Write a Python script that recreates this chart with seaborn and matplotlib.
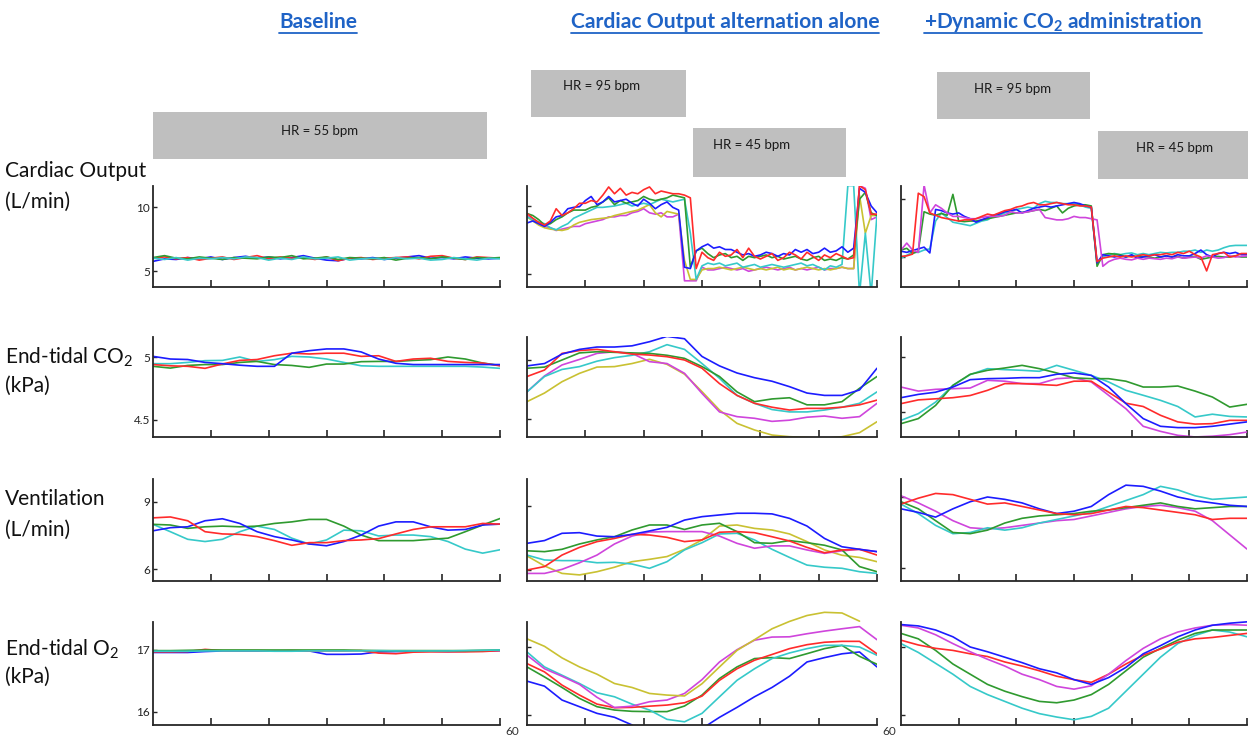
import numpy as np
import matplotlib
matplotlib.use("Agg")
import matplotlib.pyplot as plt
import seaborn as sns
from matplotlib.patches import Rectangle
from matplotlib.lines import Line2D

sns.set_style("white")
plt.rcParams['font.family'] = ['Lato', 'DejaVu Sans']
plt.rcParams['mathtext.fontset'] = 'custom'
plt.rcParams['mathtext.rm'] = 'Lato'
plt.rcParams['mathtext.it'] = 'Lato:italic'
plt.rcParams['mathtext.bf'] = 'Lato:bold'

# ---------------- data ----------------
T1 = list(range(0, 61))        # 1-s samples (cardiac output, interventions)
T2 = list(range(0, 61, 2))     # 2-s samples (baseline cardiac output)
T3 = list(range(0, 61, 3))     # 3-s samples (slow signals)

COL_TITLES = ["Baseline", "Cardiac Output alternation alone", r"+Dynamic CO$_\mathbf{2}$ administration"]
ROW_LABELS = [("Cardiac Output", "(L/min)"), (r"End-tidal CO$_2$", "(kPa)"),
              ("Ventilation", "(L/min)"), (r"End-tidal O$_2$", "(kPa)")]
Y_TICKS = [[10, 5], [5, 4.5], [9, 6], [17, 16]]
Y_TICK_LABELS = [["10", "5"], ["5", "4.5"], ["9", "6"], ["17", "16"]]
X_TICKS = [10, 20, 30, 40, 50, 60]
HR_LABELS = ["HR = 55 bpm", "HR = 95 bpm", "HR = 45 bpm", "HR = 95 bpm", "HR = 45 bpm"]

# Cardiac output (L/min)
CO_BASE = dict(
    blue=[5.75,5.95,5.9,6.05,5.95,6.1,5.9,6.05,6.15,6.0,6.1,5.95,6.05,6.2,6.0,5.85,5.8,6.0,5.95,6.05,5.9,6.0,6.1,6.2,6.0,6.05,5.95,6.1,6.0,5.95,6.0],
    red=[6.0,6.1,5.95,6.05,5.85,6.0,6.1,5.9,6.05,6.2,5.95,6.1,6.0,6.05,5.9,6.1,5.8,6.0,6.05,5.9,6.0,6.05,6.1,5.95,6.15,6.2,6.0,5.9,6.1,6.05,6.0],
    green=[6.05,6.2,6.0,5.95,6.1,6.0,5.9,6.05,6.0,5.95,6.1,6.05,6.2,5.95,6.0,6.1,5.9,6.05,6.0,5.95,6.05,5.85,6.0,6.05,5.95,6.1,6.0,5.9,6.05,6.0,6.05],
    cyan=[6.0,5.9,6.05,5.85,6.0,5.95,6.05,5.95,6.1,6.05,5.85,6.0,5.9,6.1,5.95,6.0,6.1,5.85,5.95,6.0,5.9,6.05,5.95,6.0,5.85,5.9,6.05,5.95,5.85,6.0,5.95],
)
CO_ALT = dict(
    magenta=[9.3,9.0,8.7,8.5,8.4,8.2,8.3,8.4,8.5,8.5, 8.7,8.8,8.9,9.0,9.2,9.2,9.3,9.3,9.5,9.6,
             9.8,9.5,9.4,9.5,9.2,9.2,9.4,4.5,4.5,4.5, 5.5,5.3,5.3,5.4,5.5,5.4,5.3,5.4,5.2,5.3,
             5.4,5.5,5.4,5.3,5.4,5.5,5.3,5.4,5.3,5.4, 5.5,5.3,5.4,5.4,5.5,5.4,5.4,11.5,11.3,9.0, 9.2],
    yellow=[9.2,8.9,8.6,8.4,8.3,8.25,8.2,8.3,8.6,8.8, 8.9,9.0,9.05,9.1,9.15,9.3,9.4,9.5,9.6,9.7,
            9.9,10.1,9.5,9.2,9.6,9.5,9.4,6.0,4.6,4.6, 5.3,5.4,5.4,5.5,5.4,5.3,5.4,5.5,5.4,5.3,
            5.4,5.3,5.4,5.5,5.3,5.4,5.3,5.4,5.5,5.4, 5.3,5.4,5.3,5.4,5.5,5.4,5.4,10.8,8.0,9.3, 9.3],
    cyan=[9.2,9.0,8.8,8.7,8.4,8.25,8.5,8.7,9.1,9.3, 9.5,9.7,9.9,9.9,9.95,10.0,10.1,10.2,10.0,10.1,
          10.2,10.1,10.3,10.5,10.4,10.3,10.4,10.5,8.0,4.6, 5.6,5.8,5.7,5.8,5.6,5.7,5.8,5.5,5.6,5.7,
          5.5,5.6,5.7,5.6,5.5,5.6,5.7,5.8,5.6,5.7, 5.5,5.3,5.6,5.5,5.7,11.5,11.5,3.5,8.0,3.5, 9.4],
    green=[9.45,9.3,9.0,8.6,8.7,9.0,9.2,9.5,9.7,9.7, 9.7,9.9,10.0,10.3,10.6,10.1,10.4,10.2,10.3,10.4,
           10.7,10.5,10.4,10.5,10.6,10.8,10.7,10.6,5.5,6.7, 6.9,6.5,6.2,6.4,6.5,6.2,6.3,6.0,6.3,6.2,
           6.3,6.4,6.2,6.3,6.1,6.2,6.3,6.1,6.0,6.2, 6.3,6.0,6.1,6.0,6.2,6.1,6.4,10.5,11.0,9.5, 9.3],
    blue=[8.75,8.9,8.7,8.5,8.8,9.2,9.3,9.8,9.9,9.95, 10.4,10.7,10.1,10.3,10.7,10.3,10.4,10.5,10.2,10.0,
          10.5,10.2,9.8,10.1,10.3,9.9,9.7,5.5,5.4,6.7, 7.0,7.2,6.9,7.0,6.8,6.8,6.6,6.4,6.5,6.3,
          6.4,6.6,6.5,6.3,6.5,6.4,6.8,6.6,6.8,6.5, 6.6,6.9,6.6,6.7,7.0,6.6,6.9,11.3,11.0,10.0, 9.5],
    red=[9.45,9.1,8.8,8.6,8.9,9.8,9.3,9.5,9.8,10.2, 10.2,10.4,10.3,10.8,11.4,10.9,11.3,10.8,11.0,10.9,
         11.2,11.4,10.9,11.1,11.0,10.9,10.9,10.8,10.6,5.4, 6.6,6.2,6.0,6.6,6.3,6.4,6.8,6.2,6.9,6.3,
         6.1,6.3,6.5,6.0,6.2,6.6,6.4,6.1,6.6,6.3, 6.0,6.4,6.2,6.5,6.3,6.1,6.2,11.5,11.2,9.4, 9.4],
)
CO_DYN = dict(
    cyan=[4.9,5.15,5.4,5.4,5.6,5.7,8.1,8.8,8.4,8.0, 7.9,7.8,7.7,7.9,8.1,8.2,8.5,8.6,8.8,8.9,
          9.1,9.2,9.3,9.2,9.6,9.8,9.7,9.7,9.6,9.6, 9.6,9.5,9.3,9.2,4.4,5.0,5.2,5.3,5.2,5.3,
          5.35,5.2,5.3,5.2,5.3,5.4,5.35,5.4,5.4,5.5, 5.5,5.6,5.4,5.6,5.5,5.6,5.8,5.95,6.0,6.0, 6.0],
    green=[5.6,5.75,5.3,5.5,8.9,8.7,8.6,8.75,8.6,10.4, 8.1,8.05,8.1,8.1,8.2,8.3,8.4,8.5,8.6,8.7,
           8.8,8.85,8.9,9.0,9.1,9.0,9.2,9.4,8.8,9.2, 9.4,9.5,9.5,9.4,4.2,5.2,5.3,5.25,5.2,5.0,
           5.1,5.0,5.05,5.0,4.9,5.0,5.1,5.0,5.05,4.9, 5.0,5.05,4.8,4.9,5.0,5.05,5.0,5.0,5.1,5.0, 5.0],
    blue=[5.5,5.4,5.55,5.7,5.85,5.35,9.1,9.0,8.8,8.7, 8.8,8.5,8.3,8.0,8.2,8.4,8.6,8.7,8.9,9.0,
          9.1,8.8,9.0,9.2,9.3,9.4,9.3,9.4,9.5,9.6, 9.7,9.6,9.4,9.3,4.5,5.2,5.1,5.0,5.1,5.0,
          5.2,4.9,5.0,5.1,5.2,5.0,5.1,5.0,5.2,5.1, 5.1,5.3,5.6,5.2,5.0,5.3,5.4,5.3,5.4,5.2, 5.2],
    magenta=[5.6,6.2,5.6,5.4,11.2,8.8,9.5,9.2,8.8,8.5, 8.5,8.4,8.3,8.3,8.4,8.5,8.5,8.5,8.6,8.9,
             8.8,8.8,8.9,9.0,9.1,8.4,8.3,8.2,8.2,8.3, 8.5,8.4,8.4,8.3,8.2,4.2,4.6,4.8,4.9,4.8,
             4.75,4.9,4.8,4.9,4.85,4.8,4.9,4.85,5.0,4.9, 4.95,5.0,4.9,5.1,5.0,4.9,4.95,5.1,5.0,5.05, 5.1],
    red=[5.05,5.1,5.25,10.5,10.2,8.8,8.6,8.4,8.3,8.2, 8.1,8.2,8.2,8.3,8.5,8.7,8.6,8.8,9.0,9.1,
         9.3,9.4,9.6,9.7,9.5,9.5,9.6,9.7,9.6,9.5, 9.5,9.4,9.4,9.3,4.6,4.9,5.0,5.1,5.0,5.1,
         5.0,5.1,5.2,5.1,5.2,5.2,5.3,5.2,5.4,5.3, 5.5,5.2,5.0,3.8,5.2,5.3,5.4,5.0,5.1,5.3, 5.3],
)

# End-tidal CO2 (kPa)
CO2_BASE = dict(
    cyan=[4.947,4.947,4.957,4.971,4.973,5.0,4.965,4.979,5.005,5.0,4.984,4.957,4.93,4.926,4.926,4.926,4.926,4.926,4.926,4.92,4.91],
    green=[4.926,4.912,4.933,4.94,4.94,4.957,4.965,4.94,4.933,4.918,4.944,4.944,4.963,4.965,4.965,4.973,4.979,5.0,4.984,4.952,4.933],
    red=[4.94,4.93,4.926,4.91,4.945,4.973,4.98,5.01,5.03,5.024,5.03,5.03,5.005,5.01,4.965,4.984,4.99,4.965,4.957,4.952,4.93],
    blue=[5.005,4.984,4.98,4.957,4.947,4.935,4.926,4.926,5.03,5.05,5.064,5.064,5.04,4.984,4.95,4.94,4.94,4.94,4.94,4.94,4.94],
)
CO2_ALT = dict(
    yellow=[4.647,4.72,4.816,4.887,4.94,4.944,4.97,5.006,4.963,4.88,4.732,4.576,4.463,4.407,4.364,4.35,4.344,4.336,4.35,4.384,4.477],
    magenta=[4.73,4.865,4.958,5.005,5.056,5.07,5.056,4.986,4.97,4.887,4.717,4.56,4.52,4.506,4.48,4.49,4.515,4.525,4.506,4.52,4.633],
    cyan=[4.73,4.86,4.92,4.944,4.99,5.02,5.04,5.07,5.13,5.09,4.97,4.845,4.70,4.633,4.58,4.56,4.56,4.576,4.60,4.633,4.73],
    green=[4.93,4.94,5.0,5.06,5.07,5.065,5.06,5.056,5.04,5.014,4.944,4.86,4.73,4.647,4.67,4.68,4.62,4.62,4.647,4.76,4.86],
    red=[4.86,4.915,5.056,5.08,5.09,5.07,5.05,5.042,5.028,5.0,4.93,4.80,4.70,4.633,4.60,4.576,4.59,4.59,4.60,4.62,4.66],
    blue=[4.95,4.97,5.05,5.09,5.11,5.11,5.12,5.155,5.2,5.18,5.03,4.95,4.89,4.85,4.82,4.774,4.72,4.70,4.70,4.746,4.93],
)
CO2_DYN = dict(
    magenta=[4.727,4.69,4.706,4.712,4.718,4.788,4.78,4.758,4.758,4.803,4.812,4.773,4.652,4.53,4.37,4.324,4.288,4.273,4.28,4.294,4.318],
    cyan=[4.424,4.485,4.59,4.742,4.84,4.894,4.885,4.879,4.87,4.924,4.879,4.833,4.773,4.697,4.652,4.606,4.55,4.455,4.48,4.46,4.455],
    green=[4.394,4.44,4.56,4.742,4.843,4.879,4.90,4.924,4.894,4.855,4.81,4.803,4.803,4.78,4.727,4.727,4.736,4.69,4.636,4.545,4.57],
    red=[4.576,4.61,4.62,4.63,4.65,4.697,4.758,4.758,4.75,4.742,4.78,4.78,4.68,4.58,4.55,4.47,4.41,4.39,4.394,4.424,4.424],
    blue=[4.63,4.66,4.68,4.727,4.794,4.803,4.806,4.812,4.812,4.843,4.855,4.833,4.727,4.576,4.44,4.37,4.358,4.358,4.37,4.39,4.41],
)

# Ventilation (L/min)
VE_BASE = dict(
    cyan=[8.0,7.67,7.33,7.23,7.33,7.67,7.92,7.77,7.38,7.12,7.30,7.74,7.71,7.48,7.52,7.52,7.45,7.23,6.89,6.71,6.86],
    green=[8.0,7.97,7.82,7.89,7.92,7.89,7.92,8.04,8.11,8.22,8.22,7.92,7.52,7.27,7.27,7.27,7.33,7.38,7.67,7.97,8.26],
    blue=[7.71,7.85,7.89,8.16,8.25,8.04,7.67,7.45,7.30,7.12,7.04,7.23,7.52,7.92,8.11,8.11,7.89,7.74,7.77,7.97,8.01],
    red=[8.29,8.33,8.16,7.67,7.57,7.55,7.45,7.27,7.06,7.18,7.18,7.27,7.30,7.36,7.57,7.77,7.89,7.89,7.89,8.04,8.01],
)
VE_ALT = dict(
    yellow=[6.66,6.19,5.84,5.77,5.92,6.13,6.39,6.5,6.63,6.97,7.41,8.06,8.11,7.95,7.875,7.69,7.33,6.94,6.69,6.59,6.39],
    cyan=[6.70,6.47,6.44,6.44,6.34,6.36,6.28,6.08,6.39,6.94,7.28,7.69,7.72,7.41,6.97,6.59,6.23,6.13,6.08,5.92,5.84],
    magenta=[5.84,5.84,6.03,6.34,6.70,7.22,7.59,7.78,7.8,7.8,7.8,7.59,7.25,7.02,7.13,7.13,6.94,6.78,6.9,6.97,6.86],
    green=[6.9,6.86,6.97,7.22,7.41,7.56,7.875,8.11,8.11,7.9,8.11,8.19,7.8,7.28,7.25,7.38,7.28,7.16,6.94,6.16,5.92],
    red=[6.0,6.16,6.7,7.06,7.33,7.48,7.67,7.64,7.53,7.33,7.41,7.77,7.8,7.75,7.56,7.36,7.06,6.81,6.94,6.97,6.70],
    blue=[7.25,7.38,7.72,7.75,7.59,7.56,7.67,7.83,8.0,8.34,8.5,8.58,8.66,8.66,8.63,8.42,8.06,7.48,7.09,6.97,6.86],
)
VE_DYN = dict(
    magenta=[9.05,8.75,8.4,8.0,7.7,7.65,7.7,7.8,7.9,8.0,8.05,8.2,8.35,8.5,8.6,8.65,8.55,8.4,8.0,7.4,6.8],
    cyan=[8.7,8.3,7.8,7.45,7.5,7.7,7.6,7.7,7.9,8.05,8.2,8.35,8.6,8.85,9.1,9.45,9.3,9.05,8.9,8.95,9.0],
    green=[8.8,8.5,8.0,7.5,7.45,7.6,7.9,8.1,8.2,8.25,8.3,8.4,8.45,8.55,8.65,8.75,8.6,8.5,8.55,8.6,8.6],
    blue=[8.5,8.35,8.15,8.5,8.8,9.0,8.9,8.75,8.5,8.3,8.4,8.6,9.1,9.5,9.45,9.25,9.0,8.85,8.75,8.65,8.6],
    red=[8.7,8.95,9.15,9.1,8.9,8.7,8.75,8.6,8.45,8.3,8.25,8.3,8.45,8.6,8.55,8.45,8.35,8.25,8.05,8.1,8.1],
)

# End-tidal O2 (kPa)
O2_BASE = dict(
    blue=[16.96,16.96,16.96,16.975,16.985,16.985,16.985,16.985,16.985,16.985,16.93,16.93,16.935,16.97,16.975,16.98,16.98,16.975,16.98,16.985,16.99],
    red=[16.97,16.97,16.975,17.01,16.99,16.99,16.99,16.985,16.99,16.985,16.985,16.985,16.99,16.95,16.94,16.965,16.97,16.97,16.97,16.975,16.99],
    green=[16.99,16.99,16.995,17.0,17.0,17.0,17.0,17.0,17.0,17.0,17.0,17.0,16.995,16.99,16.99,16.99,16.99,16.99,16.99,16.995,17.0],
    cyan=[16.98,16.98,16.98,16.985,16.985,16.985,16.985,16.98,16.98,16.985,16.985,16.985,16.985,16.99,16.985,16.985,16.985,16.985,16.99,16.995,17.0],
)
O2_ALT = dict(
    blue=[16.498,16.424,16.22,16.122,16.024,15.966,15.854,15.6,15.6,15.6,15.8,15.966,16.112,16.268,16.405,16.57,16.78,16.844,16.9,16.927,16.707],
    green=[16.707,16.56,16.405,16.244,16.122,16.073,16.054,16.05,16.05,16.132,16.293,16.537,16.707,16.83,16.844,16.83,16.902,16.976,17.024,16.863,16.746],
    cyan=[16.927,16.707,16.585,16.463,16.327,16.268,16.16,16.073,15.936,15.9,16.024,16.268,16.51,16.68,16.83,16.912,16.976,17.024,17.024,17.0,16.878],
    red=[16.756,16.634,16.44,16.293,16.16,16.107,16.112,16.13,16.146,16.18,16.278,16.51,16.68,16.805,16.89,16.976,17.034,17.07,17.083,17.083,16.9],
    magenta=[16.88,16.68,16.57,16.45,16.26,16.11,16.13,16.195,16.22,16.317,16.52,16.78,16.96,17.1,17.146,17.15,17.195,17.234,17.268,17.3,17.107],
    yellow=[17.12,17.01,16.84,16.707,16.6,16.463,16.405,16.317,16.293,16.28,16.46,16.707,16.95,17.107,17.268,17.376,17.463,17.51,17.5,17.38],
)
O2_DYN = dict(
    cyan=[17.05,16.92,16.76,16.6,16.42,16.3,16.2,16.1,16.02,15.97,15.93,15.98,16.1,16.35,16.6,16.85,17.05,17.17,17.25,17.22,17.15],
    green=[17.2,17.12,16.95,16.75,16.6,16.45,16.35,16.27,16.2,16.18,16.22,16.3,16.45,16.65,16.85,16.98,17.1,17.2,17.25,17.25,17.25],
    red=[17.1,17.03,16.98,16.95,16.9,16.86,16.78,16.72,16.65,16.57,16.52,16.48,16.6,16.75,16.88,16.97,17.07,17.12,17.14,17.17,17.2],
    magenta=[17.32,17.28,17.18,17.05,16.93,16.82,16.72,16.6,16.52,16.42,16.38,16.43,16.6,16.8,16.98,17.12,17.22,17.28,17.32,17.33,17.32],
    blue=[17.33,17.31,17.25,17.15,17.0,16.93,16.85,16.77,16.68,16.62,16.52,16.45,16.55,16.7,16.9,17.02,17.15,17.25,17.32,17.35,17.37],
)

PANELS = [[CO_BASE, CO_ALT, CO_DYN],
          [CO2_BASE, CO2_ALT, CO2_DYN],
          [VE_BASE, VE_ALT, VE_DYN],
          [O2_BASE, O2_ALT, O2_DYN]]
TIMES = [[T2, T1, T1], [T3, T3, T3], [T3, T3, T3], [T3, T3, T3]]

COLORS = dict(blue="#1c1cff", red="#ff2b2b", green="#2f9a2f", cyan="#36c9c9",
              magenta="#cf45dc", yellow="#c9c132")

# ---------------- layout (pixels of the 1248x736 canvas) ----------------
W, H = 1248, 736
fig = plt.figure(figsize=(W / 100, H / 100), dpi=100)

COLS_PX = [(153, 500), (527, 877), (901, 1247)]
ROWS_PX = [(186, 287), (337, 437), (479, 581), (600, 725)]
SPINE_TOP = [186, 337, 479, 622]
TICK_Y_PX = [[(207, 271), (206, 274), (199, 257)],
             [(357, 420), (360, 419), (357, 412)],
             [(502, 569), (506, 570), (497, 568)],
             [(650, 712), (647, 715), (647, 715)]]
AX_COLOR = "#262626"

for r in range(4):
    for c in range(3):
        l, rt = COLS_PX[c]
        top, bot = ROWS_PX[r]
        ax = fig.add_axes([l / W, 1 - bot / H, (rt - l) / W, (bot - top) / H])
        v1, v2 = Y_TICKS[r]
        y1, y2 = TICK_Y_PX[r][c]
        s = (y2 - y1) / (v1 - v2)
        lo = v2 - (bot - y2) / s
        hi = v1 + (y1 - top) / s
        ax.set_ylim(lo, hi)
        ax.set_xlim(0, 60)
        times = TIMES[r][c]
        for name, vals in PANELS[r][c].items():
            sns.lineplot(x=times[:len(vals)], y=vals, ax=ax, color=COLORS[name],
                         linewidth=1.2, legend=False, estimator=None, sort=False)
        ax.set_xlabel("")
        ax.set_ylabel("")
        for sp in ("top", "right"):
            ax.spines[sp].set_visible(False)
        for sp in ("left", "bottom"):
            ax.spines[sp].set_color(AX_COLOR)
            ax.spines[sp].set_linewidth(1.3)
        ax.spines["left"].set_bounds(lo, v1 + (y1 - SPINE_TOP[r]) / s)
        ax.set_xticks(X_TICKS)
        ax.tick_params(axis="x", direction="in", length=5, width=1.2, color=AX_COLOR,
                       labelbottom=False, bottom=True)
        if c == 0:
            ax.set_yticks(Y_TICKS[r], Y_TICK_LABELS[r])
            ax.tick_params(axis="y", direction="in", length=3, width=1.0, color=AX_COLOR,
                           labelsize=8.5, pad=2, labelcolor="#222222", left=True)
        else:
            ax.set_yticks(Y_TICKS[r])
            ax.tick_params(axis="y", direction="in", length=3, width=1.0, color=AX_COLOR,
                           labelleft=False, left=True)
        ax.set_facecolor("none")
        ax.grid(False)
        if r == 3 and c < 2:
            ax.text(1.015, -0.01, "60", transform=ax.transAxes, ha="left", va="top",
                    fontsize=8.5, color="#333333")

# row labels
ROW_LABEL_Y = [(171, 202), (357, 386), (499, 530), (649, 677)]
for (l1, l2), (ya, yb) in zip(ROW_LABELS, ROW_LABEL_Y):
    fig.text(5 / W, 1 - ya / H, l1, ha="left", va="center", fontsize=15, color="#111111")
    fig.text(5 / W, 1 - yb / H, l2, ha="left", va="center", fontsize=15, color="#111111")

# heart-rate boxes
BOXES_PX = [(153, 487, 112, 159, 320, 131), (531, 686, 70, 117, 602, 86),
            (693, 846, 128, 177, 752, 145), (937, 1090, 72, 119, 1013, 89),
            (1098, 1248, 131, 179, 1175, 148)]
for (x0, x1, y0, y1, tx, ty), lab in zip(BOXES_PX, HR_LABELS):
    fig.add_artist(Rectangle((x0 / W, 1 - y1 / H), (x1 - x0) / W, (y1 - y0) / H,
                             transform=fig.transFigure, facecolor="#bfbfbf", edgecolor="none"))
    fig.text(tx / W, 1 - ty / H, lab, ha="center", va="center", fontsize=9.5,
             color="#1a1a1a")

# column titles (underlined)
TITLE_CX = [318, 725, 1063]
TITLE_W = [78, 308, 277]
TITLE_COLOR = "#1f63c6"
titles = []
for cx, txt in zip(TITLE_CX, COL_TITLES):
    t = fig.text(cx / W, 1 - 22 / H, txt, ha="center", va="center", fontsize=13,
                 fontweight="bold", color=TITLE_COLOR)
    titles.append(t)

fig.canvas.draw()
renderer = fig.canvas.get_renderer()
for t, tw in zip(titles, TITLE_W):
    bb = t.get_window_extent(renderer)
    t.set_fontsize(t.get_fontsize() * tw / bb.width)
fig.canvas.draw()
for t in titles:
    bb = t.get_window_extent(renderer)
    fig.add_artist(Line2D([bb.x0 / W, bb.x1 / W], [1 - 33 / H, 1 - 33 / H],
                          transform=fig.transFigure, color=TITLE_COLOR, linewidth=1.3))

fig.savefig("out.png", dpi=100, facecolor="white")
